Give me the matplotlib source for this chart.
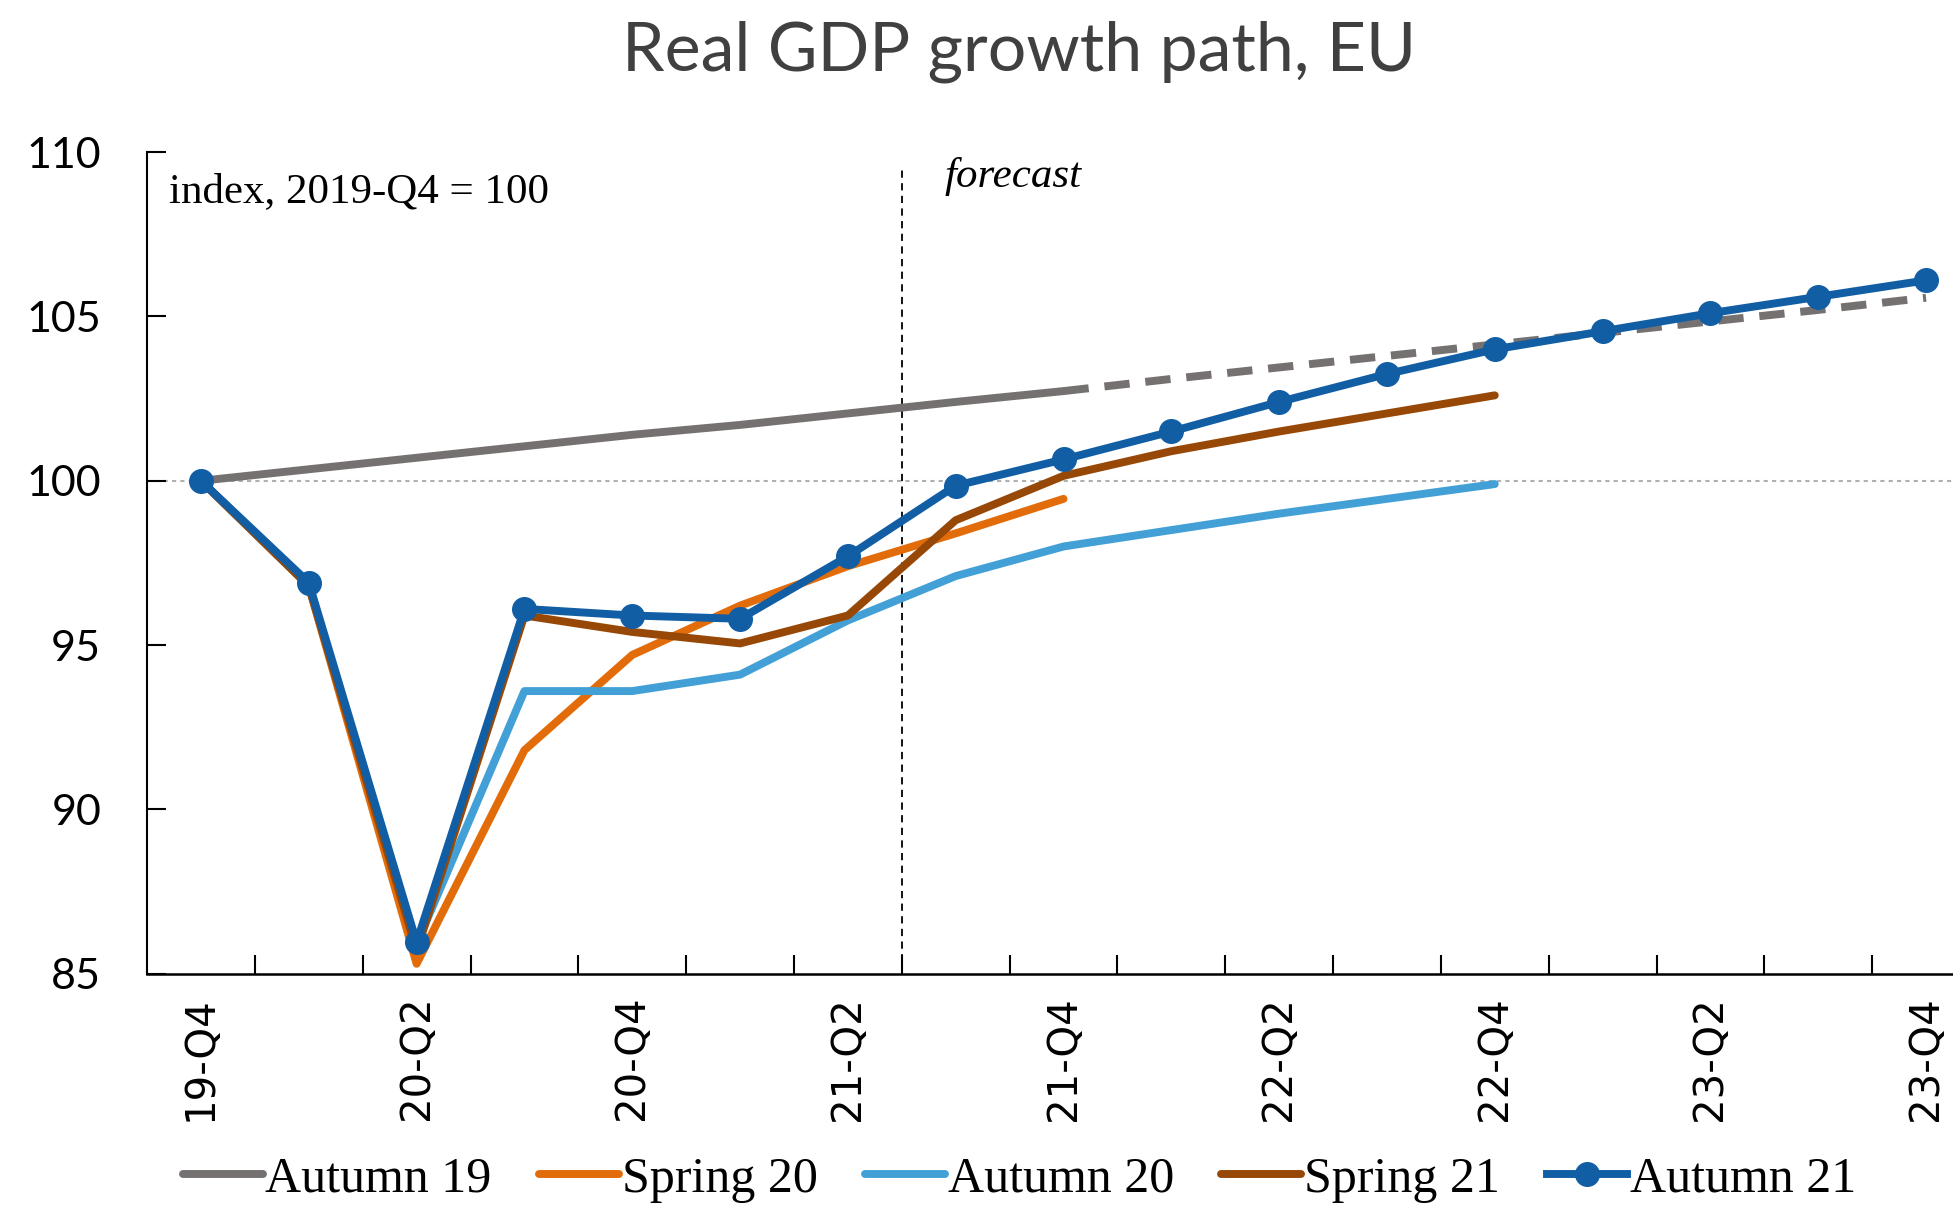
import matplotlib
matplotlib.use("Agg")
import matplotlib.pyplot as plt
import numpy as np

# quarters 19-Q4 .. 23-Q4
quarters = ["19-Q4", "20-Q1", "20-Q2", "20-Q3", "20-Q4", "21-Q1", "21-Q2", "21-Q3",
            "21-Q4", "22-Q1", "22-Q2", "22-Q3", "22-Q4", "23-Q1", "23-Q2", "23-Q3", "23-Q4"]

autumn19 = [100.0, 100.35, 100.7, 101.05, 101.4, 101.7, 102.05, 102.4, 102.73]
autumn19_ext = [102.73, 103.1, 103.45, 103.8, 104.15, 104.5, 104.85, 105.2, 105.57]
spring20 = [100.0, 96.8, 85.3, 91.8, 94.7, 96.2, 97.4, 98.4, 99.45]
autumn20 = [100.0, 96.8, 85.9, 93.6, 93.6, 94.1, 95.75, 97.1, 98.0, 98.5, 99.0, 99.45, 99.9]
spring21 = [100.0, 96.8, 85.7, 95.9, 95.4, 95.05, 95.9, 98.8, 100.15, 100.9, 101.5, 102.05, 102.6]
autumn21 = [100.0, 96.9, 85.95, 96.1, 95.9, 95.8, 97.7, 99.85, 100.65, 101.5, 102.4, 103.25,
            104.0, 104.55, 105.1, 105.6, 106.1]

GREY = '#767171'
ORANGE = '#E36C0A'
LBLUE = '#43A0D6'
BROWN = '#974806'
BLUE = '#125EA4'

fig = plt.figure(figsize=(19.53, 12.08), dpi=100)
ax = fig.add_axes([0.0753, 0.194, 0.9247, 0.68])

x = np.arange(len(quarters))
lw = 5.7

# reference lines: 100 baseline and start of forecast
ax.axhline(100, color='#b0b0b0', lw=1.5, ls=(0, (2, 2)), zorder=1)
ax.axvline(6.5, ymax=0.98, color='black', lw=1.3, ls=(0, (4, 3)), zorder=1)

ax.plot(x[:len(autumn19)], autumn19, color=GREY, lw=lw, solid_capstyle='round', label='Autumn 19')
ax.plot(x[8:8 + len(autumn19_ext)], autumn19_ext, color=GREY, lw=lw, dashes=(3.2, 2.0))
ax.plot(x[:len(spring20)], spring20, color=ORANGE, lw=lw, solid_capstyle='round', label='Spring 20')
ax.plot(x[:len(autumn20)], autumn20, color=LBLUE, lw=lw, solid_capstyle='round', label='Autumn 20')
ax.plot(x[:len(spring21)], spring21, color=BROWN, lw=lw, solid_capstyle='round', label='Spring 21')
ax.plot(x[:len(autumn21)], autumn21, color=BLUE, lw=lw, marker='o', markersize=17,
        label='Autumn 21', zorder=5, clip_on=False)

ax.set_yticks([85, 90, 95, 100, 105, 110])
ax.tick_params(axis='y', labelsize=31, length=14, width=1.5, direction='in', pad=33)
for lab in ax.get_yticklabels():
    lab.set_family('Lato')

ax.set_xticks(x[::2])
ax.set_xticklabels(quarters[::2], rotation=90, fontsize=29, family='DejaVu Sans')
ax.tick_params(axis='x', length=0, pad=16)
ax.set_xticks(np.arange(0.5, 16, 1.0), minor=True)
ax.tick_params(axis='x', which='minor', length=14, width=1.5, direction='in')

ax.set_xlim(-0.5, 16.25)
ax.set_ylim(85, 110)

for s in ['top', 'right']:
    ax.spines[s].set_visible(False)
ax.spines['left'].set_linewidth(1.5)
ax.spines['bottom'].set_linewidth(1.8)

ax.text(-0.3, 108.8, 'index, 2019-Q4 = 100', family='Liberation Serif', fontsize=31,
        va='center', ha='left')
ax.text(6.9, 109.25, 'forecast', family='Liberation Serif', style='italic', fontsize=31,
        va='center', ha='left')

fig.suptitle('Real GDP growth path, EU', x=0.522, y=0.983, fontsize=49, color='#404040',
             family='Lato')

fig.legend(loc='lower center', bbox_to_anchor=(0.522, -0.033), ncol=5, frameon=False,
           prop={'family': 'Liberation Serif', 'size': 36}, handlelength=1.6,
           handletextpad=0.05, columnspacing=0.95, markerscale=1.0)

fig.savefig('out.png', dpi=100)
